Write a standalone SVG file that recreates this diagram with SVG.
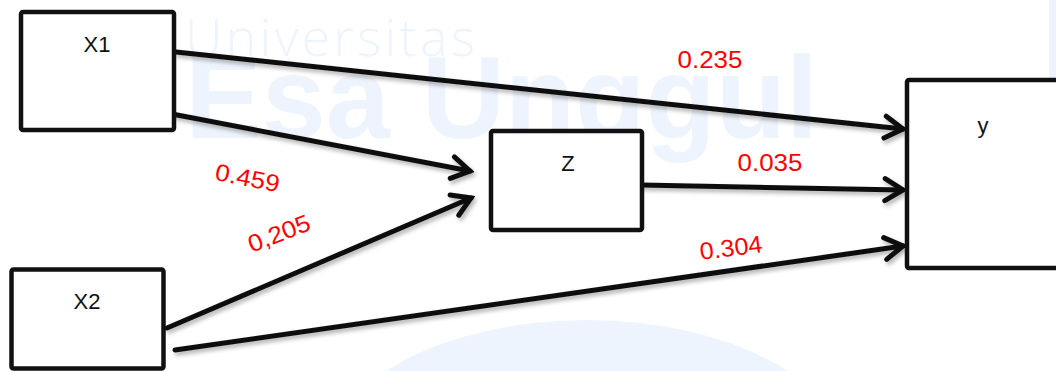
<svg xmlns="http://www.w3.org/2000/svg" width="1056" height="371" viewBox="0 0 1056 371">
  <style>
    .box { fill: #ffffff; stroke: #111111; stroke-width: 4.5; }
    .lbl { font-family: "Liberation Sans", Arial, sans-serif; font-size: 22px; fill: #111111; text-anchor: middle; }
    .coef { font-family: "Liberation Sans", Arial, sans-serif; font-size: 24px; fill: #ff0000; text-anchor: middle; }
    .edge { fill: none; stroke: #111111; stroke-width: 5; stroke-linecap: round; }
    .wm { fill: #eef4fd; }
  </style>
  <defs>
    <marker id="arrow" viewBox="-22 -14 26 28" markerWidth="26" markerHeight="28" refX="0" refY="0" orient="auto" markerUnits="userSpaceOnUse">
      <path d="M-18,-11 L0,0 L-18,11" fill="none" stroke="#111111" stroke-width="5" stroke-linecap="round" stroke-linejoin="miter"/>
    </marker>
    <filter id="shadow" x="-5%" y="-20%" width="110%" height="140%">
      <feDropShadow dx="2" dy="3" stdDeviation="2" flood-color="#000000" flood-opacity="0.3"/>
    </filter>
  </defs>
  <rect width="1056" height="371" fill="#ffffff"/>
  <g id="watermark">
    <text x="185" y="56" class="wm" font-family="'Open Sans', 'Liberation Sans', sans-serif" font-weight="300" font-size="52" textLength="290" lengthAdjust="spacing">Universitas</text>
    <text x="185" y="138" class="wm" font-family="'Liberation Sans', Arial, sans-serif" font-weight="bold" font-size="117" textLength="633" lengthAdjust="spacingAndGlyphs">Esa Unggul</text>
    <ellipse cx="587" cy="460" rx="260" ry="140" class="wm"/>
    <rect x="1049" y="0" width="7" height="137" class="wm"/>
  </g>
  <g id="connectors" filter="url(#shadow)">
    <line class="edge" x1="176" y1="52" x2="903" y2="129" marker-end="url(#arrow)"/>
    <line class="edge" x1="172" y1="114" x2="470" y2="171" marker-end="url(#arrow)"/>
    <line class="edge" x1="167" y1="328" x2="471" y2="198" marker-end="url(#arrow)"/>
    <line class="edge" x1="641" y1="185" x2="903" y2="190" marker-end="url(#arrow)"/>
    <line class="edge" x1="175" y1="350" x2="903" y2="246" marker-end="url(#arrow)"/>
  </g>
  <g id="node-X1">
    <rect class="box" x="21" y="12" width="153" height="118" rx="2"/>
    <text class="lbl" x="97" y="52">X1</text>
  </g>
  <g id="node-X2">
    <rect class="box" x="11.5" y="269.5" width="152" height="99" rx="2"/>
    <text class="lbl" x="87" y="309">X2</text>
  </g>
  <g id="node-Z">
    <rect class="box" x="491" y="131" width="151" height="99" rx="2"/>
    <text class="lbl" x="568" y="171">Z</text>
  </g>
  <g id="node-y">
    <rect class="box" x="907" y="80" width="200" height="188" rx="2"/>
    <text class="lbl" x="983" y="133">y</text>
  </g>
  <g id="labels">
    <text class="coef" x="710" y="68" textLength="65" lengthAdjust="spacingAndGlyphs">0.235</text>
    <text class="coef" x="246" y="186" transform="rotate(11 246 186)" textLength="65" lengthAdjust="spacingAndGlyphs">0.459</text>
    <text class="coef" x="282" y="241" transform="rotate(-21 282 241)" textLength="65" lengthAdjust="spacingAndGlyphs">0,205</text>
    <text class="coef" x="770" y="171" textLength="65" lengthAdjust="spacingAndGlyphs">0.035</text>
    <text class="coef" x="732" y="256" transform="rotate(-7 732 256)" textLength="63" lengthAdjust="spacingAndGlyphs">0.304</text>
  </g>
</svg>
